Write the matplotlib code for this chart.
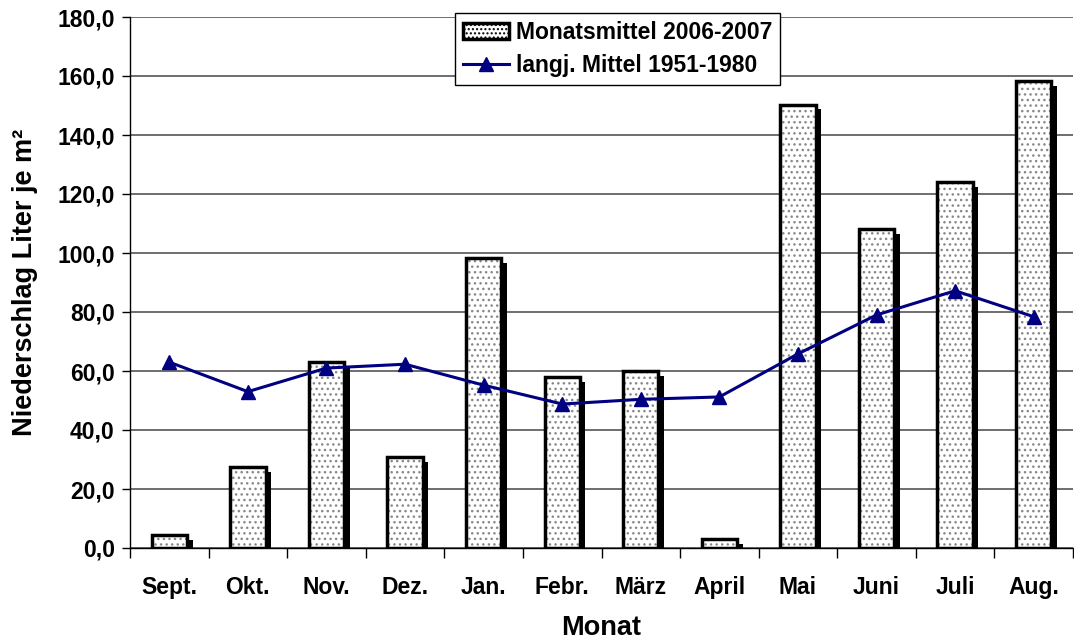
import matplotlib
matplotlib.use("Agg")
import matplotlib.pyplot as plt
import matplotlib.patheffects as pe
from matplotlib.patches import Rectangle
import numpy as np

plt.rcParams['font.family'] = ['Liberation Sans', 'DejaVu Sans']
plt.rcParams['font.weight'] = 'bold'

monate = ["Sept.", "Okt.", "Nov.", "Dez.", "Jan.", "Febr.", "März", "April",
          "Mai", "Juni", "Juli", "Aug."]
monatsmittel = [4.4, 27.3, 63.0, 30.8, 98.2, 58.0, 60.0, 3.0, 150.3, 108.0, 124.0, 158.2]
langj_mittel = [63.0, 53.0, 61.0, 62.3, 55.2, 48.8, 50.4, 51.2, 65.8, 79.0, 87.2, 78.4]
y_ticks = [0, 20, 40, 60, 80, 100, 120, 140, 160, 180]

fig = plt.figure(figsize=(10.74, 6.44), dpi=100)
ax = fig.add_axes([130/1074, 96/644, 943/1074, 531/644])

x = np.arange(len(monate))
w = 0.45

# weiße Fläche mit schwarzem Schatten
ax.bar(x, monatsmittel, width=w, color="white", linewidth=0, zorder=3,
       path_effects=[pe.SimplePatchShadow(offset=(4, -3.5), shadow_rgbFace="black", alpha=1),
                     pe.Normal()])
# punktierte Füllung
ax.bar(x, monatsmittel, width=w, fill=False, edgecolor="#888888",
       hatch="...", linewidth=0, zorder=4)
# schwarzer Rahmen
ax.bar(x, monatsmittel, width=w, fill=False, edgecolor="black", linewidth=2.5, zorder=5)

linie, = ax.plot(x, langj_mittel, color="#000080", linewidth=2.2, marker="^", markersize=10.5,
                 zorder=6)

ax.set_xlim(-0.5, len(monate) - 0.5)
ax.set_ylim(0, 180)
ax.set_yticks(y_ticks)
ax.set_yticklabels([f"{v:.1f}".replace(".", ",") for v in y_ticks])
ax.set_xticks(x)
ax.set_xticklabels(monate)
ax.set_xticks(np.arange(-0.5, len(monate)), minor=True)
ax.tick_params(axis="x", which="major", length=0, pad=20, labelsize=16.5)
ax.tick_params(axis="x", which="minor", length=7, width=1, direction="out")
ax.tick_params(axis="y", length=6, width=1, labelsize=16.5, pad=5)

ax.grid(axis="y", color="#555555", linewidth=1.2, zorder=0)
ax.set_axisbelow(True)
for s in ["top", "right"]:
    ax.spines[s].set_visible(False)
ax.spines["left"].set_linewidth(1)
ax.spines["bottom"].set_linewidth(1)

ax.set_xlabel("Monat", fontsize=19.5, fontweight="bold", labelpad=12)
ax.set_ylabel("Niederschlag Liter je m²", fontsize=19.5, fontweight="bold", labelpad=14)

balken = Rectangle((0, 0), 1, 1, facecolor="white", edgecolor="black", hatch="....",
                   linewidth=2.5)
leg = ax.legend([balken, linie], ["Monatsmittel 2006-2007", "langj. Mittel 1951-1980"],
                loc="upper center", bbox_to_anchor=(0.517, 1.008), fontsize=16.5,
                frameon=True, fancybox=False, edgecolor="black", framealpha=1,
                borderpad=0.35, handlelength=2.0, handletextpad=0.3, labelspacing=0.45,
                borderaxespad=0)
leg.get_frame().set_linewidth(1)

fig.savefig("out.png", dpi=100)
